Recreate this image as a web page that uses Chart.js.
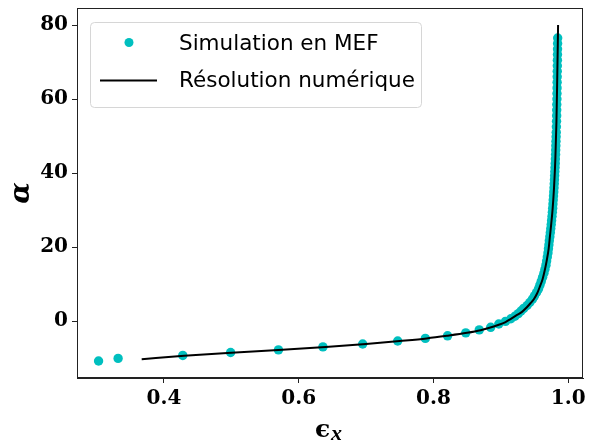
<!DOCTYPE html>
<html>
<head>
<meta charset="utf-8">
<script src="https://cdn.jsdelivr.net/npm/chart.js@4.4.0/dist/chart.umd.min.js"></script>
<style>
  html, body { margin: 0; padding: 0; background: #fff; }
  #wrap { width: 589px; height: 441px; position: relative; }
</style>
</head>
<body>
<div id="wrap"><canvas id="chart" width="589" height="441"></canvas></div>
<script>
// simulation points (FEM)
const simX = [0.303, 0.332, 0.428, 0.499, 0.570, 0.636, 0.695, 0.747, 0.788, 0.821, 0.848, 0.868, 0.885, 0.897, 0.907, 0.915,
  0.921, 0.926, 0.930, 0.934, 0.939, 0.943, 0.947, 0.950, 0.953, 0.956, 0.958, 0.960, 0.962, 0.964, 0.9655, 0.967, 0.968,
  0.969, 0.970, 0.9707, 0.9714, 0.972, 0.9728, 0.9735, 0.9742, 0.9748, 0.9754, 0.976, 0.9765, 0.977, 0.9774, 0.9778, 0.9782,
  0.9786, 0.979, 0.9793, 0.9796, 0.9799, 0.9802, 0.9805, 0.9808, 0.981, 0.9813, 0.9815, 0.9817, 0.9819, 0.9821, 0.9823,
  0.9825, 0.9827, 0.9829, 0.983, 0.9831, 0.9833, 0.9834, 0.9835, 0.9836, 0.9837, 0.9838, 0.9839, 0.984, 0.9841, 0.9842,
  0.9843, 0.9844];
const simY = [-10.8, -10.1, -9.3, -8.5, -7.8, -7.0, -6.2, -5.4, -4.7, -4.0, -3.2, -2.4, -1.7, -0.8, -0.1, 0.6,
  1.3, 2.0, 2.7, 3.4, 4.2, 5.0, 5.9, 6.8, 7.7, 8.7, 9.7, 10.7, 11.8, 12.9, 14.0, 15.1, 16.2,
  17.3, 18.4, 19.5, 20.6, 21.7, 22.8, 23.9, 25.0, 26.1, 27.2, 28.3, 29.4, 30.5, 31.6, 32.7, 33.8,
  34.9, 36.0, 37.1, 38.2, 39.3, 40.4, 41.5, 42.6, 43.8, 45.0, 46.2, 47.4, 48.6, 49.8, 51.0,
  52.5, 54.0, 55.5, 57.0, 58.5, 60.0, 61.5, 63.0, 64.5, 66.0, 67.5, 69.0, 70.5, 72.0, 73.5,
  75.0, 76.5];

// numerical solution
const solX = [0.367, 0.43, 0.50, 0.57, 0.64, 0.70, 0.75, 0.79, 0.82, 0.85, 0.87, 0.882, 0.897, 0.907, 0.915, 0.923, 0.931,
  0.938, 0.944, 0.949, 0.954, 0.958, 0.962, 0.965, 0.968, 0.971, 0.973, 0.975, 0.977, 0.979, 0.981, 0.9826, 0.9837, 0.9846, 0.985];
const solY = [-10.3, -9.4, -8.6, -7.8, -7.0, -6.2, -5.4, -4.7, -4.0, -3.2, -2.5, -1.9, -1.0, -0.3, 0.6, 1.5, 2.4,
  3.6, 4.8, 5.9, 7.5, 9.3, 11.3, 13.5, 16.2, 19.5, 23.0, 26.5, 30.5, 36.0, 44.0, 54.0, 65.0, 75.0, 80.0];

const xTicks = [0.4, 0.6, 0.8, 1.0];
const yTicks = [0, 20, 40, 60, 80];
const xRange = [0.271, 1.022];
const yRange = [-15.4, 84.6];

const labels = ["Simulation en MEF", "Résolution numérique"];
const CYAN = "rgb(0,191,191)";

const toPoints = (xs, ys) => xs.map((x, i) => ({ x, y: ys[i] }));

// frame, legend box and axis titles (matplotlib style)
const decor = {
    id: "decor",
    afterDraw(chart) {
        const { ctx, chartArea: a } = chart;
        ctx.save();
        ctx.strokeStyle = "#222";
        ctx.lineWidth = 1;
        ctx.strokeRect(a.left + 0.5, a.top + 0.5, a.right - a.left - 1, a.bottom - a.top - 1);

        // legend
        const bx = 90, by = 22, bw = 331, bh = 85;
        ctx.beginPath();
        ctx.roundRect(bx + 0.5, by + 0.5, bw, bh, 4);
        ctx.fillStyle = "rgba(255,255,255,0.8)";
        ctx.fill();
        ctx.strokeStyle = "#d6d6d6";
        ctx.stroke();
        ctx.font = '21.5px "DejaVu Sans"';
        ctx.textBaseline = "middle";
        ctx.textAlign = "left";
        ctx.beginPath();
        ctx.arc(129, 42.5, 4.5, 0, Math.PI * 2);
        ctx.fillStyle = CYAN;
        ctx.fill();
        ctx.fillStyle = "#000";
        ctx.fillText(chart.data.datasets[0].label, 179, 44);
        ctx.beginPath();
        ctx.moveTo(100, 80.5);
        ctx.lineTo(157, 80.5);
        ctx.strokeStyle = "#000";
        ctx.lineWidth = 2;
        ctx.stroke();
        ctx.fillText(chart.data.datasets[1].label, 179, 81);

        // axis titles
        ctx.save();
        ctx.translate(29, 193);
        ctx.rotate(-Math.PI / 2);
        ctx.textAlign = "center";
        ctx.textBaseline = "alphabetic";
        ctx.font = 'bold italic 28px "DejaVu Serif"';
        ctx.fillText("α", 0, 0);
        ctx.restore();

        ctx.textAlign = "left";
        ctx.textBaseline = "alphabetic";
        ctx.font = 'bold 25px "DejaVu Serif"';
        ctx.fillText("ϵ", 315, 437);
        ctx.font = 'bold italic 22px "Liberation Serif"';
        ctx.fillText("x", 331, 440);
        ctx.restore();
    }
};

const tickFont = { family: "DejaVu Serif", size: 20, weight: "bold" };

new Chart(document.getElementById("chart"), {
    type: "scatter",
    data: {
        datasets: [
            {
                label: labels[0],
                data: toPoints(simX, simY),
                backgroundColor: CYAN,
                pointBackgroundColor: CYAN,
                borderWidth: 0,
                pointRadius: 4.7,
                order: 2,
            },
            {
                label: labels[1],
                type: "line",
                data: toPoints(solX, solY),
                borderColor: "#000",
                borderWidth: 2,
                pointRadius: 0,
                cubicInterpolationMode: "monotone",
                fill: false,
                order: 1,
            },
        ],
    },
    options: {
        responsive: false,
        animation: false,
        devicePixelRatio: 1,
        layout: { padding: { left: 0, top: 8, right: 6, bottom: 0 } },
        plugins: { legend: { display: false }, tooltip: { enabled: false } },
        scales: {
            x: {
                type: "linear",
                min: xRange[0],
                max: xRange[1],
                afterBuildTicks: (s) => { s.ticks = xTicks.map(v => ({ value: v })); },
                afterFit: (s) => { s.height = 63; s.paddingLeft = 0; s.paddingRight = 0; },
                grid: { drawOnChartArea: false, tickLength: 5, tickColor: "#222" },
                border: { display: true, color: "#222" },
                ticks: { font: tickFont, color: "#000", padding: 4, maxRotation: 0, callback: v => v.toFixed(1) },
            },
            y: {
                type: "linear",
                min: yRange[0],
                max: yRange[1],
                afterBuildTicks: (s) => { s.ticks = yTicks.map(v => ({ value: v })); },
                afterFit: (s) => { s.width = 77; s.paddingTop = 0; s.paddingBottom = 0; },
                grid: { drawOnChartArea: false, tickLength: 5, tickColor: "#222" },
                border: { display: true, color: "#222" },
                ticks: { font: tickFont, color: "#000", padding: 4, callback: v => String(v) },
            },
        },
    },
    plugins: [decor],
});
</script>
</body>
</html>
